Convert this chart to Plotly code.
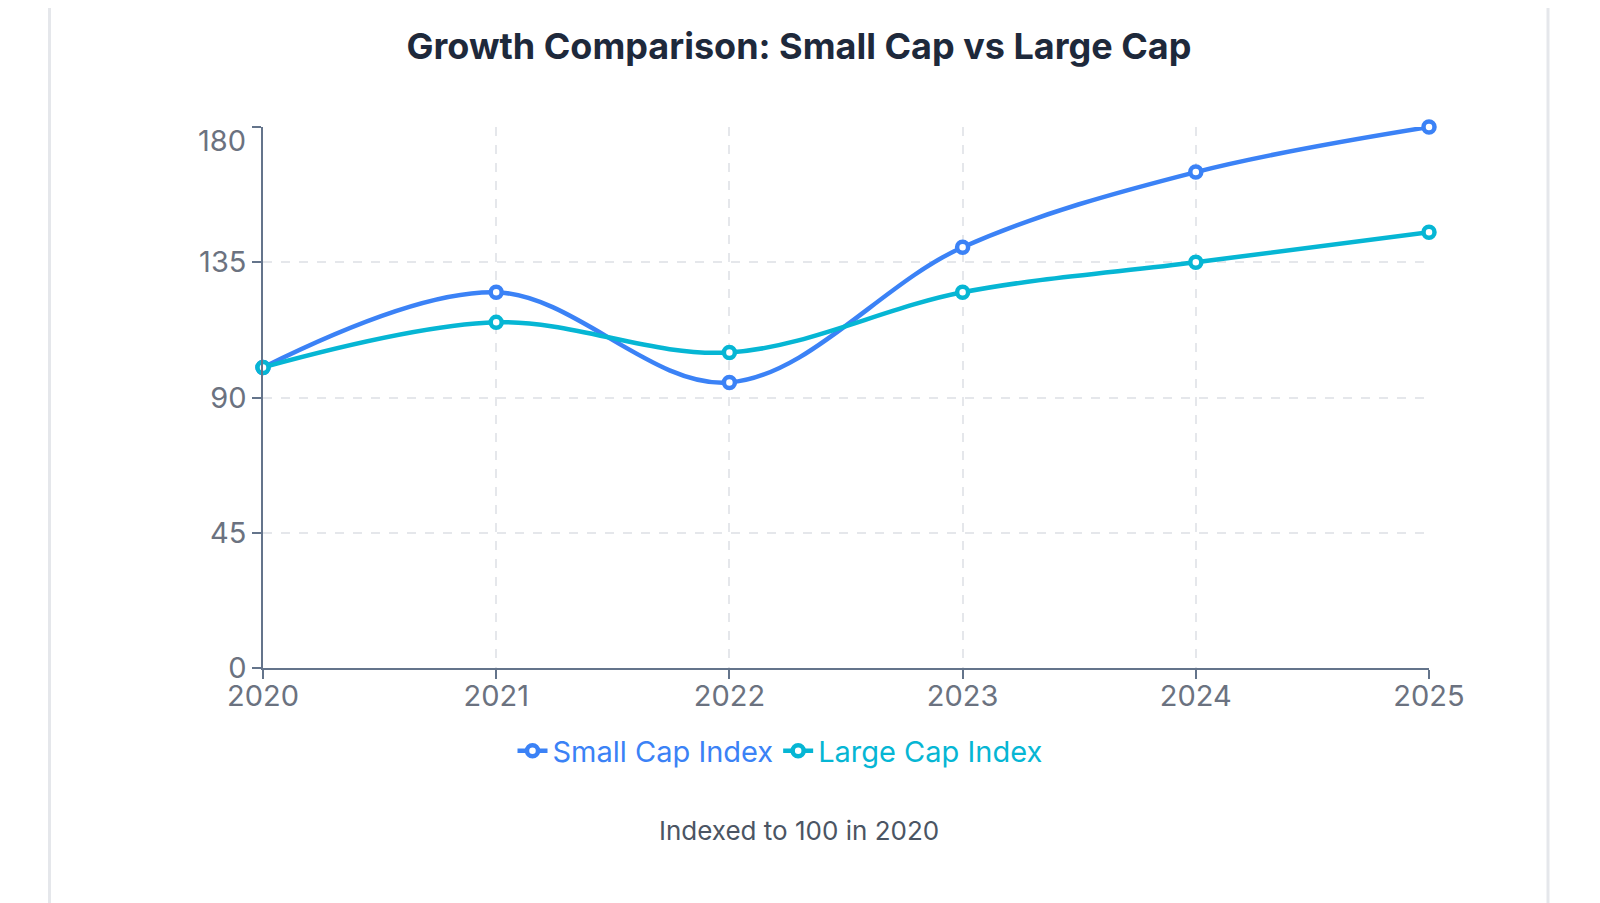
import plotly.graph_objects as go

# data
years = [2020, 2021, 2022, 2023, 2024, 2025]
small_cap = [100, 125, 95, 140, 165, 180]
large_cap = [100, 115, 105, 125, 135, 145]
y_ticks = [0, 45, 90, 135, 180]

BLUE = "#3b82f6"
CYAN = "#06b6d4"
FONT = "Inter, Roboto, Arial, sans-serif"

# page body keeps an 8px margin, so the figure is made that much smaller
W, H = 1584, 895
L, R, T, B = 255, 163, 119, 235
PW, PH = W - L - R, H - T - B


def px_x(x):
    return (x - L) / PW


def px_y(y):
    return (H - B - y) / PH


fig = go.Figure()
fig.add_trace(go.Scatter(x=years, y=small_cap, name=f"<span style='color:{BLUE}'>Small Cap Index</span>",
                         mode="lines+markers", line=dict(color=BLUE, width=4.5, shape="spline", smoothing=1),
                         marker=dict(size=11, color="white", line=dict(color=BLUE, width=4.5)),
                         cliponaxis=False))
fig.add_trace(go.Scatter(x=years, y=large_cap, name=f"<span style='color:{CYAN}'>Large Cap Index</span>",
                         mode="lines+markers", line=dict(color=CYAN, width=4.5, shape="spline", smoothing=1),
                         marker=dict(size=11, color="white", line=dict(color=CYAN, width=4.5)),
                         cliponaxis=False))

# card edges
for xe in [41.5, 1540]:
    fig.add_shape(type="line", xref="paper", yref="paper", x0=px_x(xe), x1=px_x(xe), y0=-1, y1=2,
                  line=dict(color="#e5e7eb", width=3), layer="below")

# top y label sits a bit lower than its gridline
fig.add_annotation(text=str(y_ticks[-1]), xref="paper", yref="y", x=0, y=y_ticks[-1],
                   xanchor="right", yanchor="middle", xshift=-15, yshift=-13, showarrow=False,
                   font=dict(family=FONT, size=29, color="#6b7280"))

fig.add_annotation(text="Indexed to 100 in 2020", xref="paper", yref="paper",
                   x=px_x(791), y=px_y(822), xanchor="center", yanchor="middle", showarrow=False,
                   font=dict(family=FONT, size=26, color="#4b5563"))

axis_style = dict(showline=True, linecolor="#64748b", linewidth=1.5,
                  ticks="outside", ticklen=9, tickcolor="#64748b", tickwidth=1.5,
                  showgrid=True, gridcolor="#e5e7eb", griddash="dash", gridwidth=1.5,
                  tickfont=dict(family=FONT, size=29, color="#6b7280"), zeroline=False)
fig.update_xaxes(range=[2020, 2025], tickvals=years, ticklabelstandoff=-8, **axis_style)
fig.update_yaxes(range=[0, 180], tickvals=y_ticks,
                 ticktext=[str(v) for v in y_ticks[:-1]] + [""], **axis_style)

fig.update_layout(
    width=W, height=H,
    margin=dict(l=L, r=R, t=T, b=B),
    paper_bgcolor="white", plot_bgcolor="white",
    title=dict(text="<b>Growth Comparison: Small Cap vs Large Cap</b>", x=791 / W, xanchor="center",
               y=1 - 38 / H, yanchor="middle", font=dict(family=FONT, size=36, color="#1e293b")),
    legend=dict(orientation="h", x=px_x(772), xanchor="center", y=px_y(743), yanchor="middle",
                font=dict(family=FONT, size=29), itemwidth=30),
)

fig.write_html("out.html")
